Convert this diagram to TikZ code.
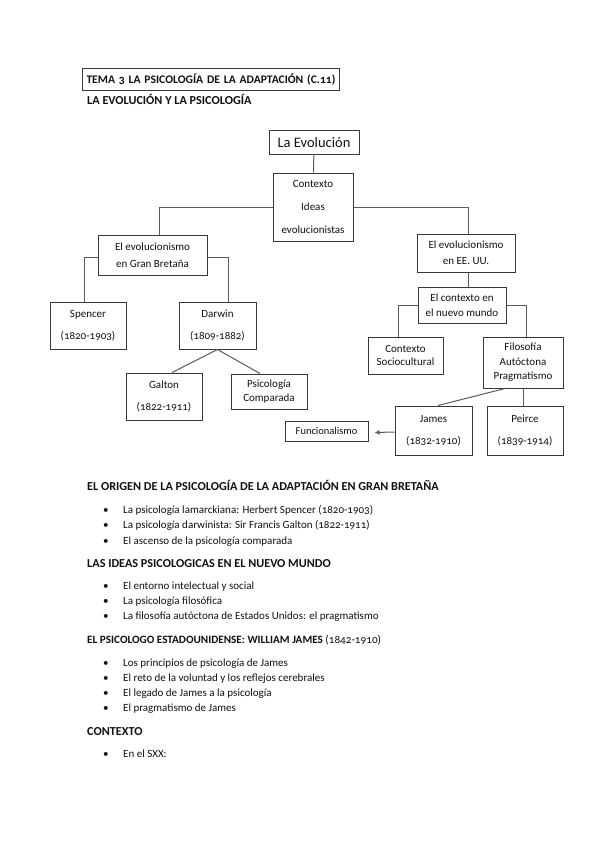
\documentclass[tikz,border=0pt]{standalone}
\usepackage{fontspec}
\setmainfont{Carlito}[Numbers=OldStyle]
\usetikzlibrary{arrows.meta,calc}
\definecolor{boxc}{HTML}{383838}
\definecolor{linec}{HTML}{5A5A5A}
\definecolor{txt}{HTML}{111111}
\begin{document}
\begin{tikzpicture}[x=1pt,y=-1pt,
  box/.style={draw=boxc, line width=1pt, align=center, inner sep=0pt, text=txt, font=\fontsize{11}{13.5}\selectfont},
  conn/.style={draw=linec, line width=1pt},
  txtline/.style={anchor=base west, inner sep=0pt, text=txt, font=\fontsize{11}{13}\selectfont},
  headline/.style={txtline, font=\fontsize{12.2}{14}\selectfont\bfseries},
  bulletmark/.style={anchor=base west, inner sep=0pt, text=txt, font=\fontsize{11}{13}\selectfont}]
\fill[white] (0,0) rectangle (599,848);
\useasboundingbox (0,0) rectangle (599,848);

% title
\node[draw=boxc, line width=1pt, anchor=west, inner xsep=4pt, inner ysep=0pt, minimum height=22pt, text width=249pt, align=left, text=txt, font=\fontsize{11.6}{13}\selectfont\bfseries] (title) at (82,80) {TEMA 3 LA PSICOLOGÍA DE LA ADAPTACIÓN (C.11)};
\node[headline] (h2) at (87,105) {LA EVOLUCIÓN Y LA PSICOLOGÍA};

% diagram
\node[box, minimum width=90pt, minimum height=23pt, font=\fontsize{14.5}{17}\selectfont] (evo) at (314,142.5) {La Evolución};
\node[box, minimum width=80pt, minimum height=68pt] (ctx) at (313,207) {Contexto\\[9.5pt]Ideas\\[9.5pt]evolucionistas};
\node[box, minimum width=109pt, minimum height=40pt] (gb) at (152.5,255) {El evolucionismo\\[3.5pt]en Gran Bretaña};
\node[box, minimum width=98pt, minimum height=38pt] (us) at (466,253) {El evolucionismo\\[2.5pt]en EE. UU.};
\node[box, minimum width=76pt, minimum height=47pt] (spencer) at (88,325.5) {Spencer\\[8.5pt](1820-1903)};
\node[box, minimum width=77pt, minimum height=47pt] (darwin) at (217.5,325.5) {Darwin\\[8.5pt](1809-1882)};
\node[box, minimum width=76pt, minimum height=47pt] (galton) at (164,396.5) {Galton\\[8.5pt](1822-1911)};
\node[box, minimum width=76pt, minimum height=35pt] (pc) at (269,391.5) {Psicología\\[0.5pt]Comparada};
\node[box, minimum width=88pt, minimum height=36pt] (nm) at (462,305) {El contexto en\\[1.5pt]el nuevo mundo};
\node[box, minimum width=75pt, minimum height=37pt] (socio) at (405.5,355.5) {Contexto\\Sociocultural};
\node[box, minimum width=80pt, minimum height=51pt] (filo) at (523,362.5) {Filosofía\\[1pt]Autóctona\\[1pt]Pragmatismo};
\node[box, minimum width=77pt, minimum height=49pt] (james) at (433.5,430.5) {James\\[8.5pt](1832-1910)};
\node[box, minimum width=76pt, minimum height=49pt] (peirce) at (525,430.5) {Peirce\\[8.5pt](1839-1914)};
\node[box, minimum width=83pt, minimum height=20pt, font=\fontsize{10.5}{13}\selectfont] (func) at (326.5,431) {Funcionalismo};

\draw[conn] (evo) -- (ctx);
\draw[conn] (ctx.west) -| ($(gb.north)+(6.5,0)$);
\draw[conn] (ctx.east) -| ($(us.north)+(2,0)$);
\draw[conn] ($(gb.west)+(0,2)$) -| ($(spencer.north)+(-4,0)$);
\draw[conn] ($(gb.east)+(0,2)$) -| ($(darwin.north)+(10.5,0)$);
\draw[conn] (darwin.south) -- ($(galton.north)+(8,0)$);
\draw[conn] (darwin.south) -- ($(pc.north)+(-9,0)$);
\draw[conn] ($(us.south)+(2,0)$) -- ($(nm.north)+(6,0)$);
\draw[conn] (nm.west) -| ($(socio.north)+(-7.5,0)$);
\draw[conn] (nm.east) -| ($(filo.north)+(3,0)$);
\draw[conn] ($(filo.south)+(-18,0)$) -- ($(james.north)+(4.5,0)$);
\draw[conn] (filo.south) -- (filo.south |- peirce.north);
\draw[conn, -{Latex[length=5pt,width=5pt]}] ($(james.west)+(0,1.5)$) -- ($(func.east)+(6,1.5)$);

% text sections
\node[headline] (s1) at (87,490) {EL ORIGEN DE LA PSICOLOGÍA DE LA ADAPTACIÓN EN GRAN BRETAÑA};
\node[bulletmark] (b11) at (103,513.5) {\textbullet};
\node[txtline] (t11) at (123,513.5) {La psicología lamarckiana: Herbert Spencer (1820-1903)};
\node[bulletmark] (b12) at (103,528.5) {\textbullet};
\node[txtline] (t12) at (123,528.5) {La psicología darwinista: Sir Francis Galton (1822-1911)};
\node[bulletmark] (b13) at (103,544.5) {\textbullet};
\node[txtline] (t13) at (123,544.5) {El ascenso de la psicología comparada};

\node[headline] (s2) at (87,567) {LAS IDEAS PSICOLOGICAS EN EL NUEVO MUNDO};
\node[bulletmark] (b21) at (103,589.5) {\textbullet};
\node[txtline] (t21) at (123,589.5) {El entorno intelectual y social};
\node[bulletmark] (b22) at (103,604.5) {\textbullet};
\node[txtline] (t22) at (123,604.5) {La psicología filosófica};
\node[bulletmark] (b23) at (103,619.5) {\textbullet};
\node[txtline] (t23) at (123,619.5) {La filosofía autóctona de Estados Unidos: el pragmatismo};

\node[txtline, font=\fontsize{11.2}{13}\selectfont\bfseries] (s3) at (87,643) {EL PSICOLOGO ESTADOUNIDENSE: WILLIAM JAMES \mdseries(1842-1910)};
\node[bulletmark] (b31) at (103,666.5) {\textbullet};
\node[txtline] (t31) at (123,666.5) {Los principios de psicología de James};
\node[bulletmark] (b32) at (103,681.5) {\textbullet};
\node[txtline] (t32) at (123,681.5) {El reto de la voluntad y los reflejos cerebrales};
\node[bulletmark] (b33) at (103,696.5) {\textbullet};
\node[txtline] (t33) at (123,696.5) {El legado de James a la psicología};
\node[bulletmark] (b34) at (103,711.5) {\textbullet};
\node[txtline] (t34) at (123,711.5) {El pragmatismo de James};

\node[headline] (s4) at (87,735) {CONTEXTO};
\node[bulletmark] (b41) at (103,757.5) {\textbullet};
\node[txtline] (t41) at (123,757.5) {En el SXX:};
\end{tikzpicture}
\end{document}
